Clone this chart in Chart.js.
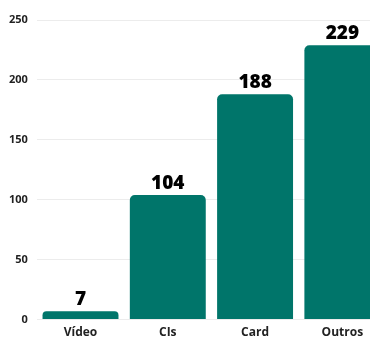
<!DOCTYPE html>
<html>
<head>
<meta charset="utf-8">
<script src="https://cdn.jsdelivr.net/npm/chart.js@4.4.0/dist/chart.umd.min.js"></script>
<style>
  html, body { margin: 0; padding: 0; background: #fff; overflow: hidden; }
  #wrap { width: 386px; height: 338px; }
</style>
</head>
<body>
<div id="wrap"><canvas id="chart"></canvas></div>
<script>
// dados
const categorias = ["Vídeo", "CIs", "Card", "Outros"];
const valores = [7, 104, 188, 229];
const ticksY = [0, 50, 100, 150, 200, 250];

const corBarra = "#00756a";

// rotulos em cima das barras
const rotulos = {
  id: "rotulos",
  afterDatasetsDraw(chart) {
    const ctx = chart.ctx;
    const meta = chart.getDatasetMeta(0);
    ctx.save();
    ctx.font = "800 19px 'Open Sans'";
    ctx.fillStyle = "#000";
    ctx.textAlign = "center";
    ctx.textBaseline = "bottom";
    meta.data.forEach((bar, i) => {
      ctx.fillText(valores[i], bar.x, bar.y - 2);
    });
    ctx.restore();
  }
};

new Chart(document.getElementById("chart"), {
  type: "bar",
  data: {
    labels: categorias,
    datasets: [{
      data: valores,
      backgroundColor: corBarra,
      borderRadius: { topLeft: 5, topRight: 5 },
      borderSkipped: false,
      categoryPercentage: 0.87,
      barPercentage: 1
    }]
  },
  options: {
    responsive: true,
    maintainAspectRatio: false,
    animation: false,
    layout: { padding: { top: 20, left: 0, right: 0, bottom: 0 } },
    plugins: { legend: { display: false }, tooltip: { enabled: false } },
    scales: {
      x: {
        grid: { display: false },
        border: { display: false },
        ticks: { color: "#222", font: { family: "Open Sans", weight: "bold", size: 12 }, padding: -2 }
      },
      y: {
        min: 0,
        max: 250,
        afterBuildTicks: (axis) => { axis.ticks = ticksY.map(v => ({ value: v })); },
        grid: { color: "#ececec", drawTicks: false },
        border: { display: false },
        ticks: { color: "#222", font: { family: "Open Sans", weight: "bold", size: 11 }, padding: 9 }
      }
    }
  },
  plugins: [rotulos]
});
</script>
</body>
</html>
